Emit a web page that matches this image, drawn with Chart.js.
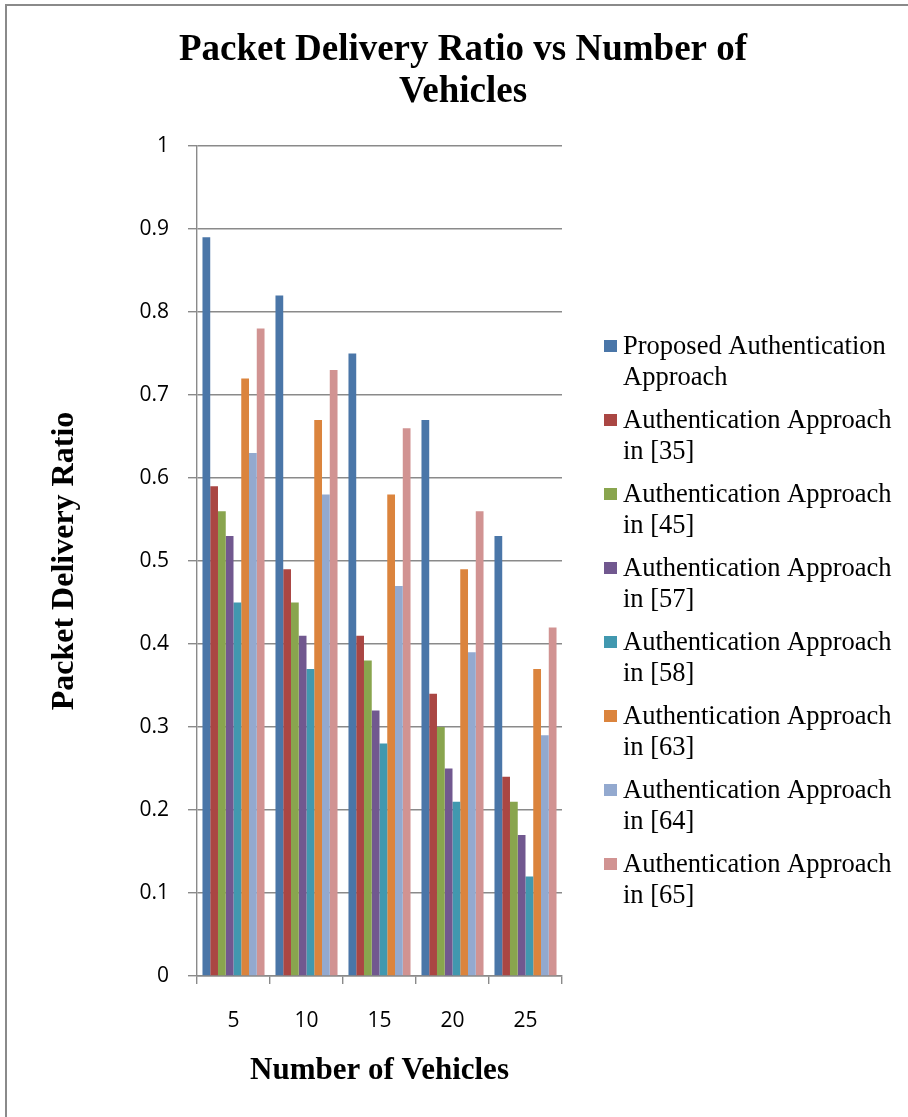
<!DOCTYPE html>
<html>
<head>
<meta charset="utf-8">
<style>
  html, body { margin: 0; padding: 0; background: #fff; }
  #wrap { width: 908px; height: 1117px; position: relative; }
</style>
</head>
<body>
<div id="wrap"><canvas id="pdr" width="908" height="1117"></canvas></div>

<script src="https://cdn.jsdelivr.net/npm/chart.js@4/dist/chart.umd.min.js"></script>
<script>
  // Число машин
  var vehicles = ["5", "10", "15", "20", "25"];

  // Доля доставленных пакетов по каждому подходу
  var proposed = [0.89, 0.82, 0.75, 0.67, 0.53];
  var ref35    = [0.59, 0.49, 0.41, 0.34, 0.24];
  var ref45    = [0.56, 0.45, 0.38, 0.30, 0.21];
  var ref57    = [0.53, 0.41, 0.32, 0.25, 0.17];
  var ref58    = [0.45, 0.37, 0.28, 0.21, 0.12];
  var ref63    = [0.72, 0.67, 0.58, 0.49, 0.37];
  var ref64    = [0.63, 0.58, 0.47, 0.39, 0.29];
  var ref65    = [0.78, 0.73, 0.66, 0.56, 0.42];

  var seriesNames = [
    "Proposed Authentication Approach",
    "Authentication Approach in [35]",
    "Authentication Approach in [45]",
    "Authentication Approach in [57]",
    "Authentication Approach in [58]",
    "Authentication Approach in [63]",
    "Authentication Approach in [64]",
    "Authentication Approach in [65]"
  ];
  var seriesValues = [proposed, ref35, ref45, ref57, ref58, ref63, ref64, ref65];
  var seriesColors = ["#4A76A8", "#AA4643", "#89A54E", "#71588F", "#4198AF", "#DB843D", "#93A9CF", "#D19392"];

  var yTickLabels = ["0", "0.1", "0.2", "0.3", "0.4", "0.5", "0.6", "0.7", "0.8", "0.9", "1"];
  var chartTitle = ["Packet Delivery Ratio vs Number of", "Vehicles"];

  var gridColor = "#8a8a8a";
  var sansFont = "'Open Sans', 'Noto Sans', sans-serif";
  var serifFont = "'Liberation Serif', 'DejaVu Serif', serif";

  var datasets = seriesNames.map(function(name, i){
    return {
      label: name,
      data: seriesValues[i],
      backgroundColor: seriesColors[i],
      borderWidth: 0,
      categoryPercentage: 0.85,
      barPercentage: 1.0
    };
  });

  // Рамка и заголовок по центру всего рисунка
  var framePlugin = {
    id: "frame",
    beforeDraw: function(chart){
      var ctx = chart.ctx;
      ctx.save();
      ctx.fillStyle = "#fff";
      ctx.fillRect(0, 0, chart.width, chart.height);
      ctx.strokeStyle = "#8a8a8a";
      ctx.lineWidth = 2;
      ctx.beginPath();
      ctx.moveTo(6, chart.height);
      ctx.lineTo(6, 5);
      ctx.lineTo(chart.width, 5);
      ctx.stroke();

      ctx.fillStyle = "#000";
      ctx.font = "bold 37px " + serifFont;
      ctx.textAlign = "center";
      ctx.textBaseline = "alphabetic";
      chartTitle.forEach(function(line, k){
        ctx.fillText(line, 463, 60 + k * 42);
      });
      ctx.restore();
    }
  };

  // Легенда справа, подписи переносятся по словам
  var sideLegend = {
    id: "sideLegend",
    afterDraw: function(chart){
      var ctx = chart.ctx;
      var x0 = 604, textX = 623, maxW = 280;
      var y = 347, lineH = 31, gap = 12;
      ctx.save();
      ctx.font = "26.5px " + serifFont;
      ctx.textBaseline = "middle";
      ctx.fillStyle = "#000";
      chart.data.datasets.forEach(function(ds){
        var words = ds.label.split(" ");
        var lines = [], cur = "";
        words.forEach(function(w){
          var test = cur ? cur + " " + w : w;
          if (ctx.measureText(test).width > maxW && cur) {
            lines.push(cur);
            cur = w;
          } else {
            cur = test;
          }
        });
        if (cur) lines.push(cur);

        ctx.fillStyle = ds.backgroundColor;
        ctx.fillRect(x0, y - 7, 13, 12);
        ctx.fillStyle = "#000";
        lines.forEach(function(l, k){
          ctx.fillText(l, textX, y + k * lineH);
        });
        y += lines.length * lineH + gap;
      });
      ctx.restore();
    }
  };

  var myChart = new Chart(document.getElementById("pdr"), {
    type: "bar",
    data: {
      labels: vehicles,
      datasets: datasets
    },
    plugins: [framePlugin, sideLegend],
    options: {
      responsive: false,
      animation: false,
      devicePixelRatio: 1,
      layout: {
        padding: { left: 0, right: 346, top: 146, bottom: 0 }
      },
      plugins: {
        legend: { display: false },
        tooltip: { enabled: false },
        title: { display: false }
      },
      scales: {
        x: {
          grid: {
            offset: true,
            drawOnChartArea: false,
            drawTicks: true,
            tickLength: 8,
            color: gridColor,
            lineWidth: 1.4
          },
          border: { color: gridColor, width: 1.4 },
          ticks: {
            color: "#000",
            font: { family: sansFont, size: 21 },
            padding: 24
          },
          title: {
            display: true,
            text: "Number of Vehicles",
            color: "#000",
            font: { family: serifFont, size: 31, weight: "bold" },
            padding: { top: 27, bottom: 27 }
          },
          afterFit: function(scale){ scale.height = 141; }
        },
        y: {
          min: 0,
          max: 1,
          ticks: {
            stepSize: 0.1,
            color: "#000",
            font: { family: sansFont, size: 21 },
            padding: 19,
            callback: function(value, index){ return yTickLabels[index]; }
          },
          grid: {
            color: gridColor,
            lineWidth: 1.4,
            tickLength: 9
          },
          border: { color: gridColor, width: 1.4 },
          title: {
            display: true,
            text: "Packet Delivery Ratio",
            color: "#000",
            font: { family: serifFont, size: 32, weight: "bold" },
            padding: { top: 46, bottom: 46 }
          },
          afterFit: function(scale){ scale.width = 197; }
        }
      }
    }
  });
</script>
</body>
</html>
